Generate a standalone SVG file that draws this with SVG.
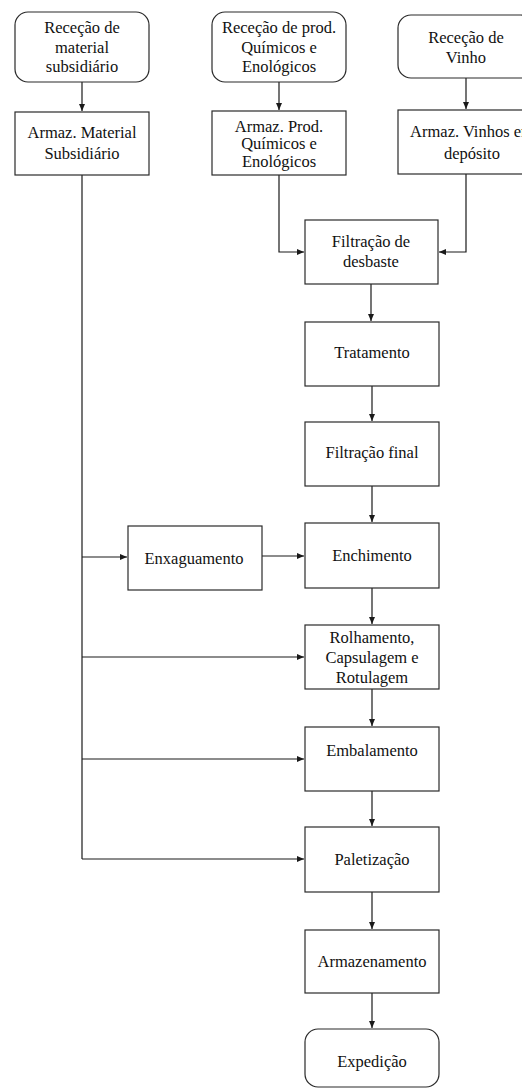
<svg xmlns="http://www.w3.org/2000/svg" width="522" height="1088" viewBox="0 0 522 1088">
  <style>
    .box { fill: #ffffff; stroke: #2a2a2a; stroke-width: 1.2; }
    .lbl { font-size: 16.5px; fill: #111111; text-anchor: middle; }
    .wire { fill: none; stroke: #1a1a1a; stroke-width: 1.2; }
    .arr { marker-end: url(#head); }
  </style>
  <defs>
    <marker id="head" markerWidth="7" markerHeight="6" refX="7" refY="3" orient="auto" markerUnits="userSpaceOnUse">
      <path d="M0,0 L7,3 L0,6 Z" fill="#1a1a1a"/>
    </marker>
  </defs>
  <rect width="522" height="1088" fill="#ffffff"/>

  <g id="connectors">
    <path class="wire arr" d="M82,82 V111"/>
    <path class="wire arr" d="M279,82 V110"/>
    <path class="wire arr" d="M466,78 V109"/>
    <path class="wire arr" d="M279,175 V252 H304"/>
    <path class="wire arr" d="M466,174 V252 H439"/>
    <path class="wire arr" d="M371,284 V321"/>
    <path class="wire arr" d="M372,386 V421"/>
    <path class="wire arr" d="M372,486 V522"/>
    <path class="wire" d="M82,175 V859"/>
    <path class="wire arr" d="M82,557 H127"/>
    <path class="wire arr" d="M262,556 H304"/>
    <path class="wire arr" d="M372,588 V624"/>
    <path class="wire arr" d="M82,657 H304"/>
    <path class="wire arr" d="M372,689 V726"/>
    <path class="wire arr" d="M82,759 H304"/>
    <path class="wire arr" d="M372,791 V826"/>
    <path class="wire arr" d="M82,859 H304"/>
    <path class="wire arr" d="M372,892 V929"/>
    <path class="wire arr" d="M372,993 V1028"/>
  </g>

  <g font-family="'Liberation Serif', 'DejaVu Serif', serif">
  <g id="rececao-material">
    <rect class="box" x="15" y="12" width="134" height="70" rx="13"/>
    <text class="lbl" x="82" y="33">Receção de</text>
    <text class="lbl" x="82" y="53">material</text>
    <text class="lbl" x="82" y="72">subsidiário</text>
  </g>
  <g id="rececao-quimicos">
    <rect class="box" x="212" y="12" width="134" height="70" rx="13"/>
    <text class="lbl" x="279" y="33">Receção de prod.</text>
    <text class="lbl" x="279" y="53">Químicos  e</text>
    <text class="lbl" x="279" y="72">Enológicos</text>
  </g>
  <g id="rececao-vinho">
    <rect class="box" x="398" y="15" width="136" height="63" rx="13"/>
    <text class="lbl" x="466" y="43">Receção de</text>
    <text class="lbl" x="466" y="63">Vinho</text>
  </g>

  <g id="armaz-material">
    <rect class="box" x="15" y="112" width="134" height="63"/>
    <text class="lbl" x="82" y="138">Armaz.  Material</text>
    <text class="lbl" x="82" y="159">Subsidiário</text>
  </g>
  <g id="armaz-quimicos">
    <rect class="box" x="212" y="111" width="134" height="64"/>
    <text class="lbl" x="279" y="132">Armaz.  Prod.</text>
    <text class="lbl" x="279" y="149">Químicos  e</text>
    <text class="lbl" x="279" y="167">Enológicos</text>
  </g>
  <g id="armaz-vinhos">
    <rect class="box" x="398" y="110" width="136" height="64"/>
    <text class="lbl" x="472" y="137">Armaz.  Vinhos em</text>
    <text class="lbl" x="472" y="159">depósito</text>
  </g>

  <g id="filtracao-desbaste">
    <rect class="box" x="305" y="220" width="133" height="64"/>
    <text class="lbl" x="371" y="247">Filtração de</text>
    <text class="lbl" x="371" y="267">desbaste</text>
  </g>
  <g id="tratamento">
    <rect class="box" x="305" y="322" width="134" height="64"/>
    <text class="lbl" x="372" y="358">Tratamento</text>
  </g>
  <g id="filtracao-final">
    <rect class="box" x="305" y="422" width="134" height="64"/>
    <text class="lbl" x="372" y="458">Filtração  final</text>
  </g>
  <g id="enxaguamento">
    <rect class="box" x="128" y="526" width="134" height="64"/>
    <text class="lbl" x="194" y="564">Enxaguamento</text>
  </g>
  <g id="enchimento">
    <rect class="box" x="305" y="523" width="134" height="65"/>
    <text class="lbl" x="372" y="561">Enchimento</text>
  </g>
  <g id="rolhamento">
    <rect class="box" x="305" y="625" width="134" height="64"/>
    <text class="lbl" x="372" y="643">Rolhamento,</text>
    <text class="lbl" x="372" y="663">Capsulagem e</text>
    <text class="lbl" x="372" y="683">Rotulagem</text>
  </g>
  <g id="embalamento">
    <rect class="box" x="305" y="727" width="134" height="64"/>
    <text class="lbl" x="372" y="756">Embalamento</text>
  </g>
  <g id="paletizacao">
    <rect class="box" x="305" y="827" width="134" height="65"/>
    <text class="lbl" x="372" y="865">Paletização</text>
  </g>
  <g id="armazenamento">
    <rect class="box" x="305" y="930" width="134" height="63"/>
    <text class="lbl" x="372" y="967">Armazenamento</text>
  </g>
  <g id="expedicao">
    <rect class="box" x="305" y="1029" width="134" height="58" rx="13"/>
    <text class="lbl" x="372" y="1067">Expedição</text>
  </g>
  </g>
</svg>
